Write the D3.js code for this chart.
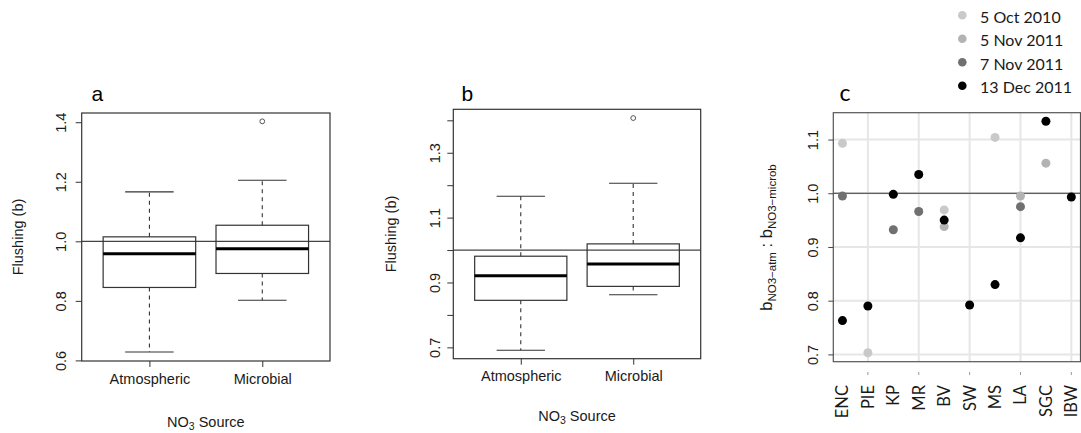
<!DOCTYPE html>
<html>
<head>
<meta charset="utf-8">
<script src="https://cdn.jsdelivr.net/npm/d3@7"></script>
<style>
  html, body { margin: 0; padding: 0; background: #fff; }
  svg { display: block; }
</style>
</head>
<body>
<svg id="chart" width="1081" height="433"></svg>
<script>
// ---------------- DATA ----------------
const sources = ["Atmospheric", "Microbial"];
// [lower whisker, Q1, median, Q3, upper whisker]
const statsA = [[0.628, 0.845, 0.958, 1.015, 1.166], [0.802, 0.892, 0.975, 1.054, 1.205]];
const outliersA = [[], [1.403]];
const ticksA = [0.6, 0.8, 1.0, 1.2, 1.4];
const tickLabelsA = ["0.6", "0.8", "1.0", "1.2", "1.4"];

const statsB = [[0.691, 0.845, 0.921, 0.981, 1.166], [0.862, 0.888, 0.957, 1.019, 1.206]];
const outliersB = [[], [1.407]];
const ticksB = [0.7, 0.8, 0.9, 1.0, 1.1, 1.2, 1.3, 1.4];
const tickLabelsB = ["0.7", "", "0.9", "", "1.1", "", "1.3", ""];

const sites = ["ENC", "PIE", "KP", "MR", "BV", "SW", "MS", "LA", "SGC", "IBW"];
const dates = ["5 Oct 2010", "5 Nov 2011", "7 Nov 2011", "13 Dec 2011"];
const oct2010 = [1.093, 0.703, null, null, 0.969, null, 1.104, null, null, null];
const nov5_2011 = [null, null, null, null, 0.938, null, null, 0.995, 1.056, null];
const nov7_2011 = [0.995, null, 0.932, 0.966, null, null, null, 0.975, null, null];
const dec2011 = [0.763, 0.790, 0.998, 1.035, 0.950, 0.792, 0.830, 0.917, 1.134, 0.993];
const ticksC = [0.7, 0.8, 0.9, 1.0, 1.1];
const tickLabelsC = ["0.7", "0.8", "0.9", "1.0", "1.1"];
const gridSiteIdx = [2, 4, 6, 8, 10];

// ---------------- STYLE ----------------
const dateColors = ["#c9c9c9", "#b3b3b3", "#707070", "#000000"];
const rFont = "'Liberation Sans', Arial, sans-serif";
const cFont = "Lato, 'Open Sans', sans-serif";

const svg = d3.select("#chart");

function boxPanel(opt) {
  const g = svg.append("g");
  const x = d3.scaleLinear().domain([0.4, 2.6]).range([opt.left, opt.right]);
  const y = d3.scaleLinear().domain(opt.ydomain).range([opt.bottom, opt.top]);
  const bw = 0.82, cw = 0.43;
  const ink = "#333";

  // reference line at 1
  g.append("line").attr("x1", opt.left).attr("x2", opt.right)
    .attr("y1", y(1)).attr("y2", y(1)).attr("stroke", "#444").attr("stroke-width", 1.2);

  opt.stats.forEach((s, i) => {
    const cx = x(i + 1);
    g.append("line").attr("x1", cx).attr("x2", cx).attr("y1", y(s[3])).attr("y2", y(s[4]))
      .attr("stroke", ink).attr("stroke-dasharray", "4,4").attr("stroke-width", 1.1);
    g.append("line").attr("x1", cx).attr("x2", cx).attr("y1", y(s[1])).attr("y2", y(s[0]))
      .attr("stroke", ink).attr("stroke-dasharray", "4,4").attr("stroke-width", 1.1);
    [s[0], s[4]].forEach(v => {
      g.append("line").attr("x1", x(i + 1 - cw / 2)).attr("x2", x(i + 1 + cw / 2))
        .attr("y1", y(v)).attr("y2", y(v)).attr("stroke", ink).attr("stroke-width", 1.1);
    });
    g.append("rect").attr("x", x(i + 1 - bw / 2)).attr("width", x(i + 1 + bw / 2) - x(i + 1 - bw / 2))
      .attr("y", y(s[3])).attr("height", y(s[1]) - y(s[3]))
      .attr("fill", "none").attr("stroke", ink).attr("stroke-width", 1.2);
    g.append("line").attr("x1", x(i + 1 - bw / 2)).attr("x2", x(i + 1 + bw / 2))
      .attr("y1", y(s[2])).attr("y2", y(s[2])).attr("stroke", "#000").attr("stroke-width", 3);
    opt.outliers[i].forEach(v => {
      g.append("circle").attr("cx", cx).attr("cy", y(v)).attr("r", 2.4)
        .attr("fill", "none").attr("stroke", "#555").attr("stroke-width", 1);
    });
  });

  g.append("rect").attr("x", opt.left).attr("y", opt.top)
    .attr("width", opt.right - opt.left).attr("height", opt.bottom - opt.top)
    .attr("fill", "none").attr("stroke", ink).attr("stroke-width", 1.2);

  const yAxis = d3.axisLeft(y).tickValues(opt.ticks).tickSize(6).tickPadding(0).tickFormat((d, i) => opt.tickLabels[i]);
  const ya = g.append("g").attr("transform", `translate(${opt.left},0)`).call(yAxis);
  ya.select(".domain").remove();
  ya.selectAll(".tick line").attr("stroke", ink);
  ya.selectAll(".tick text")
    .attr("x", null)
    .attr("transform", `translate(${opt.ylabX - opt.left},0) rotate(-90)`)
    .attr("dy", "0.36em")
    .attr("text-anchor", "middle")
    .attr("font-family", rFont).attr("font-size", 14.5).attr("fill", "#1a1a1a");

  const xAxis = d3.axisBottom(x).tickValues([1, 2]).tickSize(6).tickPadding(0).tickFormat((d, i) => sources[i]);
  const xa = g.append("g").attr("transform", `translate(0,${opt.bottom})`).call(xAxis);
  xa.select(".domain").remove();
  xa.selectAll(".tick line").attr("stroke", ink);
  xa.selectAll(".tick text").attr("y", opt.xlabBase - opt.bottom).attr("dy", null)
    .attr("font-family", rFont).attr("font-size", 14.5).attr("fill", "#1a1a1a");

  g.append("text").attr("transform", `translate(${opt.ytitleX},${(opt.top + opt.bottom) / 2}) rotate(-90)`)
    .attr("text-anchor", "middle").attr("font-family", rFont).attr("font-size", 14.5).attr("fill", "#1a1a1a")
    .text("Flushing (b)");
  const xt = g.append("text").attr("x", (opt.left + opt.right) / 2).attr("y", opt.xtitleBase)
    .attr("text-anchor", "middle").attr("font-family", rFont).attr("font-size", 14.5).attr("fill", "#1a1a1a");
  xt.append("tspan").text("NO");
  xt.append("tspan").attr("font-size", 10.5).attr("dy", 3).text("3");
  xt.append("tspan").attr("dy", -3).text(" Source");

  g.append("text").attr("x", opt.labX).attr("y", 100.5).attr("font-family", rFont)
    .attr("font-size", 21).attr("fill", "#000").text(opt.label);
}

boxPanel({
  left: 81.7, right: 330, top: 113, bottom: 361, ydomain: [0.598, 1.431],
  stats: statsA, outliers: outliersA, ticks: ticksA, tickLabels: tickLabelsA,
  ylabX: 61, xlabBase: 384, ytitleX: 23, xtitleBase: 427, labX: 91.5, label: "a"
});
boxPanel({
  left: 453.3, right: 700.7, top: 109.3, bottom: 358.7, ydomain: [0.665, 1.434],
  stats: statsB, outliers: outliersB, ticks: ticksB, tickLabels: tickLabelsB,
  ylabX: 435, xlabBase: 381, ytitleX: 396, xtitleBase: 421, labX: 461.5, label: "b"
});

// ---------------- PANEL C ----------------
(function () {
  const left = 833.3, right = 1080.5, top = 112.7, bottom = 361.7;
  const g = svg.append("g");
  const x = d3.scaleLinear().domain([0.64, 10.36]).range([left, right]);
  const y = d3.scaleLinear().domain([0.6864, 1.150]).range([bottom, top]);

  g.selectAll(".hg").data(ticksC).enter().append("line")
    .attr("x1", left).attr("x2", right).attr("y1", d => y(d)).attr("y2", d => y(d))
    .attr("stroke", "#e6e6e6").attr("stroke-width", 2);
  g.selectAll(".vg").data(gridSiteIdx).enter().append("line")
    .attr("x1", d => x(d)).attr("x2", d => x(d)).attr("y1", top).attr("y2", bottom)
    .attr("stroke", "#e6e6e6").attr("stroke-width", 2);

  g.append("line").attr("x1", left).attr("x2", right).attr("y1", y(1)).attr("y2", y(1))
    .attr("stroke", "#333").attr("stroke-width", 1.2);

  const series = [oct2010, nov5_2011, nov7_2011, dec2011];
  series.forEach((vals, si) => {
    g.selectAll(".p" + si).data(vals.map((v, i) => ({ v, i })).filter(d => d.v !== null))
      .enter().append("circle")
      .attr("cx", d => x(d.i + 1)).attr("cy", d => y(d.v)).attr("r", 4.5)
      .attr("fill", dateColors[si]);
  });

  g.append("rect").attr("x", left).attr("y", top).attr("width", right - left).attr("height", bottom - top)
    .attr("fill", "none").attr("stroke", "#555").attr("stroke-width", 1.2);

  const ya = g.append("g").attr("transform", `translate(${left},0)`)
    .call(d3.axisLeft(y).tickValues(ticksC).tickSize(5).tickFormat((d, i) => tickLabelsC[i]));
  ya.select(".domain").remove();
  ya.selectAll(".tick line").attr("stroke", "#444");
  ya.selectAll(".tick text").attr("x", null).attr("dy", "0.36em")
    .attr("transform", `translate(${813 - left},0) rotate(-90)`)
    .attr("text-anchor", "middle").attr("font-family", rFont).attr("font-size", 14.5).attr("fill", "#1a1a1a");

  g.selectAll(".xt").data(gridSiteIdx).enter().append("line")
    .attr("x1", d => x(d)).attr("x2", d => x(d)).attr("y1", 372).attr("y2", 375)
    .attr("stroke", "#999").attr("stroke-width", 1);

  g.selectAll(".xl").data(sites).enter().append("text")
    .attr("transform", (d, i) => `translate(${x(i + 1) + 6},385) rotate(-90)`)
    .attr("text-anchor", "end").attr("font-family", cFont).attr("font-size", 16.5).attr("fill", "#1a1a1a")
    .text(d => d);

  const yt = g.append("text").attr("transform", `translate(772,237.5) rotate(-90)`)
    .attr("text-anchor", "middle").attr("font-family", rFont).attr("font-size", 16.5).attr("fill", "#1a1a1a");
  yt.append("tspan").text("b");
  yt.append("tspan").attr("font-size", 11.5).attr("dy", 3.5).text("NO3\u2212atm");
  yt.append("tspan").attr("dy", -3.5).text(" : b");
  yt.append("tspan").attr("font-size", 11.5).attr("dy", 3.5).text("NO3\u2212microb");

  g.append("text").attr("x", 839.5).attr("y", 100.5).attr("font-family", cFont)
    .attr("font-size", 23).attr("fill", "#000").text("c");

  const lg = svg.append("g");
  dates.forEach((d, i) => {
    const cy = 15.3 + 23.5 * i;
    lg.append("circle").attr("cx", 962.3).attr("cy", cy).attr("r", 4.3).attr("fill", dateColors[i]);
    lg.append("text").attr("x", 980).attr("y", cy + 7.3).attr("font-family", cFont)
      .attr("font-size", 16).attr("fill", "#1a1a1a").text(d);
  });
})();
</script>
</body>
</html>
